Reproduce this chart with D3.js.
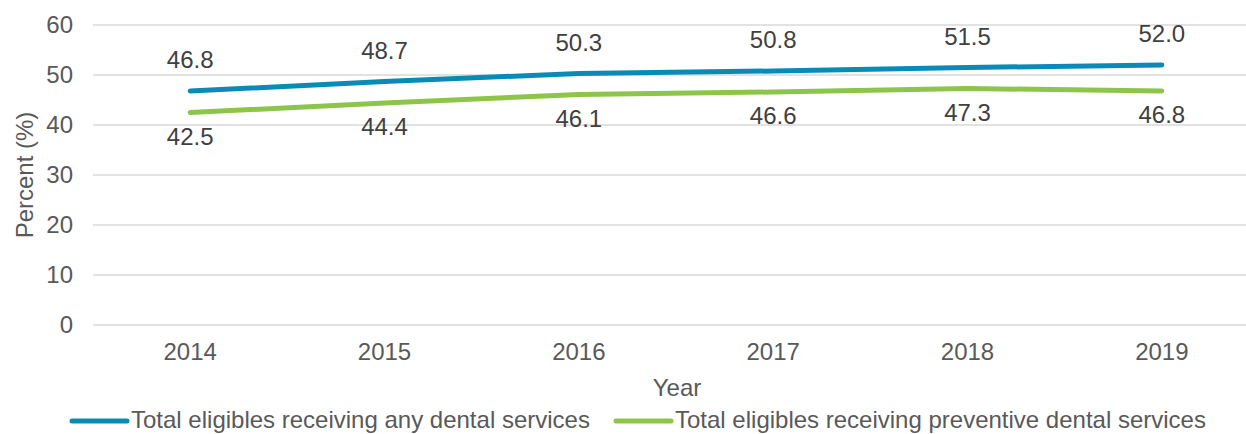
<!DOCTYPE html>
<html><head><meta charset="utf-8">
<script src="https://cdn.jsdelivr.net/npm/d3@7"></script>
<style>body{margin:0;background:#fff}svg{display:block;font-family:"Liberation Sans",Arial,sans-serif}</style>
</head><body><svg id="c" width="1246" height="434"></svg>
<script>
const years = ["2014","2015","2016","2017","2018","2019"];
const anyDental = [46.8,48.7,50.3,50.8,51.5,52.0];
const preventive = [42.5,44.4,46.1,46.6,47.3,46.8];
const yTicks = [0,10,20,30,40,50,60];
const seriesNames = ["Total eligibles receiving any dental services","Total eligibles receiving preventive dental services"];
const colors = ["#0A8BB5","#8DC54B"];

(function(){
const svg = d3.select("#c");
const pL = 93, pR = 1259, pT = 25, pB = 325;
const x = d3.scaleBand().domain(years).range([pL,pR]);
const y = d3.scaleLinear().domain([0,60]).range([pB,pT]);
const fs = 24;
const textCol = "#595959";

svg.append("g").selectAll("line").data(yTicks).join("line")
  .attr("x1",pL).attr("x2",pR).attr("y1",d=>y(d)).attr("y2",d=>y(d))
  .attr("stroke","#D9D9D9").attr("stroke-width",1.5);

svg.append("g").selectAll("text").data(yTicks).join("text")
  .attr("x",73).attr("y",d=>y(d)).attr("dy","0.35em").attr("text-anchor","end")
  .attr("font-size",fs).attr("fill",textCol).text(d=>d);

svg.append("g").selectAll("text").data(years).join("text")
  .attr("x",d=>x(d)+x.bandwidth()/2).attr("y",352).attr("dy","0.35em").attr("text-anchor","middle")
  .attr("font-size",fs).attr("fill",textCol).text(d=>d);

svg.append("text").attr("x",677).attr("y",388).attr("dy","0.35em").attr("text-anchor","middle")
  .attr("font-size",fs).attr("fill",textCol).text("Year");
svg.append("text").attr("transform","translate(25,175) rotate(-90)").attr("dy","0.35em").attr("text-anchor","middle")
  .attr("font-size",fs).attr("fill",textCol).text("Percent (%)");

const cx = d=>x(d)+x.bandwidth()/2;
const line = d3.line().x((d,i)=>cx(years[i])).y(d=>y(d));
[anyDental,preventive].forEach((s,k)=>{
  svg.append("path").datum(s).attr("d",line).attr("fill","none")
    .attr("stroke",colors[k]).attr("stroke-width",5).attr("stroke-linecap","round").attr("stroke-linejoin","round");
  svg.append("g").selectAll("text").data(s).join("text")
    .attr("x",(d,i)=>cx(years[i])).attr("y",d=>y(d)+(k===0?-31:24)).attr("dy","0.35em")
    .attr("text-anchor","middle").attr("font-size",fs).attr("fill","#404040").text(d=>d.toFixed(1));
});

const legX = [72,616];
seriesNames.forEach((n,k)=>{
  svg.append("line").attr("x1",legX[k]).attr("x2",legX[k]+55).attr("y1",421).attr("y2",421)
    .attr("stroke",colors[k]).attr("stroke-width",5).attr("stroke-linecap","round");
  svg.append("text").attr("x",legX[k]+59).attr("y",420).attr("dy","0.35em")
    .attr("font-size",fs).attr("fill",textCol).text(n);
});
})();
</script></body></html>
